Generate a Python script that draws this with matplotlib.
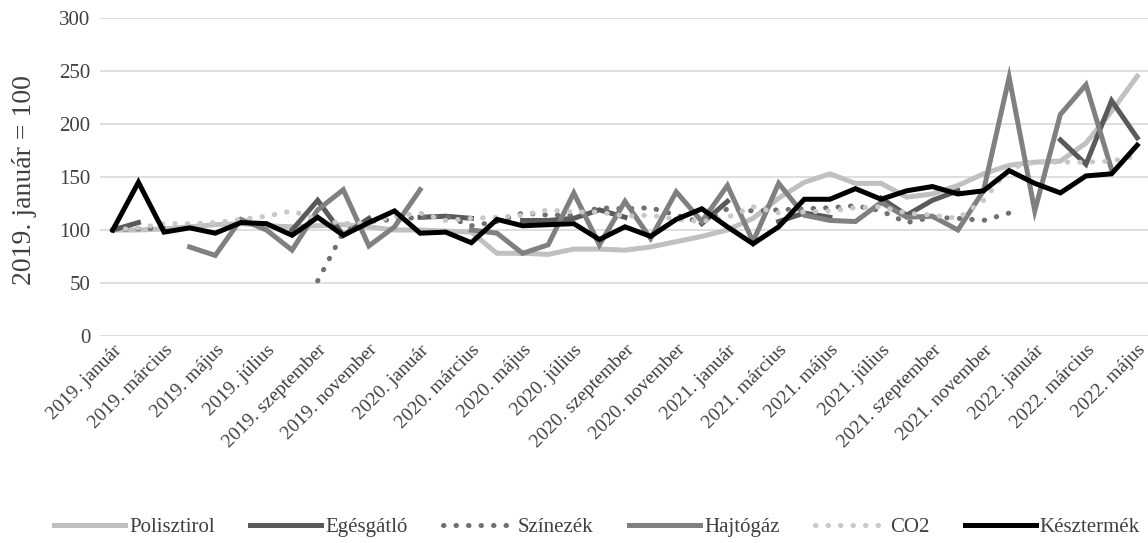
import matplotlib
matplotlib.use("Agg")
from matplotlib import pyplot as plt
import numpy as np

nan = np.nan

honapok = ['január', 'február', 'március', 'április', 'május', 'június',
           'július', 'augusztus', 'szeptember', 'október', 'november', 'december']
idoszak = [f"{ev}. {h}" for ev in (2019, 2020, 2021) for h in honapok] + \
          [f"2022. {h}" for h in honapok[:5]]

polisztirol = [100, 100, 101, 103, 105, 106, 104, 103, 104, 105, 103, 100, 100, 99, 98,
               78, 78, 77, 82, 82, 81, 84, 89, 94, 100, 111, 130, 145, 153, 144, 144,
               131, 134, 142, 153, 161, 164, 165, 182, 212, 245]
egesgatlo = [100, 107, nan, nan, nan, nan, nan, 100, 128, 95, 111, nan, 112, 113, 111,
             nan, 109, 109, 111, 119, 112, nan, nan, 106, 127, nan, 108, 116, 112, nan,
             130, 114, 128, 137, nan, nan, nan, 185, 162, 222, 187]
szinezek = [100, 101, 102, nan, nan, nan, nan, nan, 52, 98, 108, 110, 112, 113, 104,
            108, 116, 114, 114, 121, 120, 121, 114, 107, 120, 118, 119, 120, 121, 123,
            118, 107, 112, 111, 109, 116, nan, nan, nan, nan, nan]
hajtogaz = [nan, nan, nan, 84, 76, 110, 100, 81, 119, 138, 85, 103, 138, nan, 100,
            97, 78, 86, 135, 86, 127, 92, 136, 108, 142, 89, 144, 114, 109, 108,
            126, 112, 113, 100, 137, 244, 118, 209, 237, 157, nan]
co2 = [100, 102, 106, 106, 107, 110, 113, 118, 110, 106, 107, 113, 116, 109, 111,
       112, 114, 119, 117, 117, 113, 114, 110, 108, 112, 122, 116, 117, 118, 121,
       122, 116, 114, 111, 128, 158, 164, 164, 164, 165, 170]
keszermek = [100, 145, 98, 102, 97, 107, 106, 95, 112, 95, 107, 118, 97, 98, 88,
             110, 104, 105, 106, 91, 103, 94, 110, 120, 103, 87, 103, 129, 129, 139,
             129, 137, 141, 134, 137, 156, 144, 135, 151, 153, 180]

plt.rcParams['font.family'] = ['Liberation Serif', 'DejaVu Serif']
plt.rcParams['font.size'] = 14

fig = plt.figure(figsize=(11.48, 5.43), dpi=100)
ax = fig.add_axes([100 / 1148, (543 - 336) / 543, 1050 / 1148, 318 / 543])

x = np.arange(len(idoszak))
lw = 3.6
dots = (0, (0.1, 2.4))
ax.plot(x, polisztirol, color='#c0c0c0', lw=lw, label='Polisztirol', solid_joinstyle='miter')
ax.plot(x, egesgatlo, color='#5a5a5a', lw=lw, label='Egésgátló', solid_joinstyle='miter')
ax.plot(x, szinezek, color='#707070', lw=lw, ls=dots, dash_capstyle='round', label='Színezék')
ax.plot(x, hajtogaz, color='#808080', lw=lw, label='Hajtógáz', solid_joinstyle='miter')
ax.plot(x, co2, color='#c8c8c8', lw=lw, ls=dots, dash_capstyle='round', label='CO2')
ax.plot(x, keszermek, color='black', lw=lw, label='Késztermék', solid_joinstyle='miter')

ax.set_xlim(-0.5, len(idoszak) - 0.5)
ax.set_ylim(0, 300)
ax.set_yticks(np.arange(0, 301, 50))
ax.set_xticks(x[::2])
ax.set_xticklabels(idoszak[::2], rotation=45, ha='right', va='top', rotation_mode='anchor')
ax.tick_params(axis='both', length=0, colors='#404040')
ax.tick_params(axis='y', pad=7, labelsize=15)
ax.tick_params(axis='x', pad=4)
ax.grid(axis='y', color='#d9d9d9', lw=1.2)
ax.set_axisbelow(True)
for s in ax.spines.values():
    s.set_visible(False)
ax.set_ylabel('2019. január = 100', color='#404040', fontsize=20)
ax.yaxis.set_label_coords(-63 / 1050, 0.49)

fig.legend(loc='center', bbox_to_anchor=(597 / 1148, 1 - 527 / 543), ncol=6, frameon=False,
           fontsize=15, handlelength=3.4, handletextpad=0.2, columnspacing=1.7,
           labelcolor='#404040')

fig.savefig('out.png', dpi=100)
